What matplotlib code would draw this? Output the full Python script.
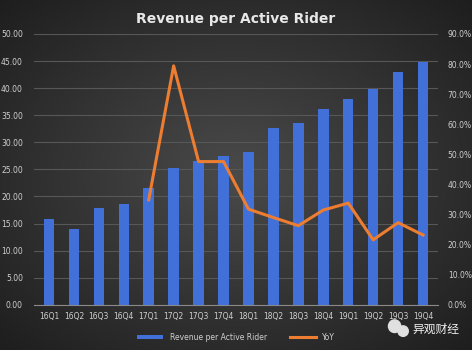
import numpy as np
import matplotlib
matplotlib.use("Agg")
from matplotlib import pyplot as plt
from matplotlib.patches import Ellipse

quarters = ['16Q1', '16Q2', '16Q3', '16Q4', '17Q1', '17Q2', '17Q3', '17Q4',
            '18Q1', '18Q2', '18Q3', '18Q4', '19Q1', '19Q2', '19Q3', '19Q4']
revenue = [15.8, 14.0, 17.9, 18.6, 21.6, 25.3, 26.6, 27.4,
           28.3, 32.7, 33.6, 36.2, 38.0, 39.9, 43.0, 44.8]
yoyQuarters = quarters[4:]
yoy = [34.9, 79.4, 47.6, 47.6, 31.8, 29.0, 26.3, 31.5, 33.8, 21.6, 27.3, 23.2]

plt.rcParams['font.family'] = ['DejaVu Sans', 'Noto Sans CJK SC']

fig = plt.figure(figsize=(4.72, 3.5), dpi=100)

# dark radial background
bg = fig.add_axes([0, 0, 1, 1])
yy, xx = np.mgrid[-1:1:350j, -1:1:472j]
r = np.sqrt(xx ** 2 + yy ** 2)
bg.imshow(-r, cmap=matplotlib.colors.LinearSegmentedColormap.from_list('g', ['#1e1e1e', '#4a4a4a']),
          aspect='auto', extent=[0, 1, 0, 1])
bg.set_xlim(0, 1)
bg.set_ylim(0, 1)
bg.axis('off')

ax = fig.add_axes([0.072, 0.129, 0.856, 0.774])
ax.patch.set_alpha(0)
x = np.arange(len(quarters))
ax.bar(x, revenue, width=0.42, color='#4070d8', zorder=2, label='Revenue per Active Rider')
ax.set_ylim(0, 50)
ax.set_yticks(np.arange(0, 51, 5))
ax.set_yticklabels(['%.2f' % v for v in np.arange(0, 51, 5)])
ax.set_xlim(-0.6, len(quarters) - 0.4)
ax.set_xticks(x)
ax.set_xticklabels(quarters)
ax.grid(axis='y', color='#575757', linewidth=0.8, zorder=0)
for s in ['top', 'right', 'left']:
    ax.spines[s].set_visible(False)
ax.spines['bottom'].set_color('#8a8a8a')
ax.tick_params(axis='both', length=0, colors='#d0d0d0', labelsize=5.5)
ax.tick_params(axis='y', pad=8)
ax.tick_params(axis='x', pad=5)

ax2 = ax.twinx()
ax2.plot(x[4:], yoy, color='#ed7d31', linewidth=2.2, zorder=3, label='YoY')
ax2.set_ylim(0, 90)
ax2.set_yticks(np.arange(0, 91, 10))
ax2.set_yticklabels(['%.1f%%' % v for v in np.arange(0, 91, 10)])
for s in ax2.spines.values():
    s.set_visible(False)
ax2.tick_params(axis='y', length=0, colors='#d0d0d0', labelsize=5.5, pad=7)

fig.text(0.5, 0.945, 'Revenue per Active Rider', ha='center', va='center',
         color='#e8e8e8', fontsize=10, fontweight='bold')

h1, l1 = ax.get_legend_handles_labels()
h2, l2 = ax2.get_legend_handles_labels()
leg = fig.legend(h1 + h2, l1 + l2, loc='center', bbox_to_anchor=(0.5, 0.037), ncol=2,
                 frameon=False, fontsize=5.5, handlelength=3.5, handleheight=0.5,
                 columnspacing=3)
for t in leg.get_texts():
    t.set_color('#d0d0d0')

# watermark
bg.add_patch(Ellipse((0.836, 0.068), 0.026, 0.036, color='#e0e0e0'))
bg.add_patch(Ellipse((0.854, 0.054), 0.022, 0.030, color='#e0e0e0'))
fig.text(0.873, 0.06, '异观财经', family=['Noto Sans CJK SC', 'DejaVu Sans'],
         color='#f0f0f0', fontsize=8.5, ha='left', va='center')

fig.savefig('out.png', dpi=100)
